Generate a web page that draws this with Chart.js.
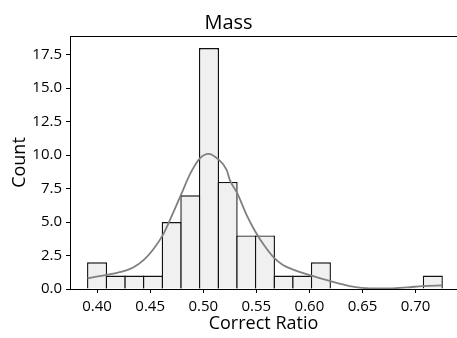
<!doctype html>
<html lang="en">
<head>
<meta charset="utf-8">
<title>Mass</title>
<style>
  * { margin: 0; padding: 0; }
  body { background: #fff; }
</style>
</head>
<body>
<canvas id="myChart" width="457" height="338"></canvas>
<script src="https://cdn.jsdelivr.net/npm/chart.js"></script>
<script>
// setup
const binCenters = [0.40000, 0.41757, 0.43514, 0.45270, 0.47027, 0.48784, 0.50541, 0.52297, 0.54054, 0.55811,
                    0.57568, 0.59324, 0.61081, 0.62838, 0.64595, 0.66351, 0.68108, 0.69865, 0.71622];
const counts = [2, 1, 1, 1, 5, 7, 18, 8, 4, 4, 1, 1, 2, 0, 0, 0, 0, 0, 1];

// kde line
const kdeX = [0.391, 0.409, 0.426, 0.434, 0.444, 0.453, 0.462, 0.470, 0.479, 0.488, 0.497, 0.505, 0.514, 0.522,
              0.525, 0.532, 0.541, 0.549, 0.557, 0.567, 0.575, 0.584, 0.602, 0.619, 0.638, 0.657, 0.676, 0.692, 0.707, 0.725];
const kdeY = [0.80, 1.05, 1.35, 1.6, 2.17, 2.97, 4.04, 5.4, 7.03, 8.65, 9.78, 10.1, 9.7, 8.9,
              8.15, 7.16, 5.5, 4.3, 3.3, 2.3, 1.8, 1.47, 1.0, 0.6, 0.22, 0.05, 0.05, 0.12, 0.22, 0.27];

const xTicks = [0.40, 0.45, 0.50, 0.55, 0.60, 0.65, 0.70];
const yTicks = [0, 2.5, 5, 7.5, 10, 12.5, 15, 17.5];

const FONT = "'Open Sans', sans-serif";

// top spine (right one falls outside the picture)
const topSpine = {
  id: 'topSpine',
  afterDraw(chart) {
    const { ctx, chartArea } = chart;
    ctx.save();
    ctx.strokeStyle = '#000';
    ctx.lineWidth = 1;
    ctx.beginPath();
    ctx.moveTo(chartArea.left, Math.round(chartArea.top) + 0.5);
    ctx.lineTo(chartArea.right, Math.round(chartArea.top) + 0.5);
    ctx.stroke();
    ctx.restore();
  }
};

const data = {
  datasets: [{
    type: 'line',
    data: kdeX.map((x, i) => ({ x, y: kdeY[i] })),
    borderColor: '#808080',
    borderWidth: 1.8,
    pointRadius: 0,
    cubicInterpolationMode: 'monotone',
    fill: false,
    order: 0
  }, {
    type: 'bar',
    data: binCenters.map((x, i) => ({ x, y: counts[i] })),
    backgroundColor: '#f0f0f0',
    borderColor: '#111',
    borderWidth: 1.4,
    barPercentage: 1.075,
    categoryPercentage: 1,
    order: 1
  }]
};

// config
const config = {
  data,
  options: {
    responsive: false,
    animation: false,
    devicePixelRatio: 1,
    layout: { padding: 0 },
    plugins: {
      legend: { display: false },
      tooltip: { enabled: false },
      title: {
        display: true,
        text: 'Mass',
        color: '#000',
        font: { family: FONT, size: 20, weight: 'normal' },
        padding: { top: 11.5, bottom: 0.5 }
      }
    },
    scales: {
      x: {
        type: 'linear',
        offset: false,
        min: 0.3745,
        max: 0.7390,
        afterBuildTicks: (scale) => { scale.ticks = xTicks.map(v => ({ value: v })); },
        afterFit: (scale) => { scale.height = 49; scale.paddingLeft = 0; scale.paddingRight = 0; },
        ticks: {
          color: '#000',
          font: { family: FONT, size: 15 },
          padding: 5,
          maxRotation: 0,
          autoSkip: false,
          callback: (v) => v.toFixed(2)
        },
        grid: { offset: false, drawOnChartArea: false, drawTicks: true, tickLength: 4, color: '#000' },
        border: { display: true, color: '#000', width: 1 },
        title: {
          display: true,
          text: 'Correct Ratio',
          color: '#000',
          font: { family: FONT, size: 18 },
          padding: { top: 0, bottom: 3 }
        }
      },
      y: {
        type: 'linear',
        min: 0,
        max: 18.9,
        afterBuildTicks: (scale) => { scale.ticks = yTicks.map(v => ({ value: v })); },
        afterFit: (scale) => { scale.width = 70; },
        ticks: {
          color: '#000',
          font: { family: FONT, size: 15 },
          padding: 4,
          callback: (v) => v.toFixed(1)
        },
        grid: { drawOnChartArea: false, drawTicks: true, tickLength: 4, color: '#000' },
        border: { display: true, color: '#000', width: 1 },
        title: {
          display: true,
          text: 'Count',
          color: '#000',
          font: { family: FONT, size: 18 },
          padding: { top: 9, bottom: 0 }
        }
      }
    }
  },
  plugins: [topSpine]
};

// render init block
const myChart = new Chart(document.getElementById('myChart'), config);
</script>
</body>
</html>
